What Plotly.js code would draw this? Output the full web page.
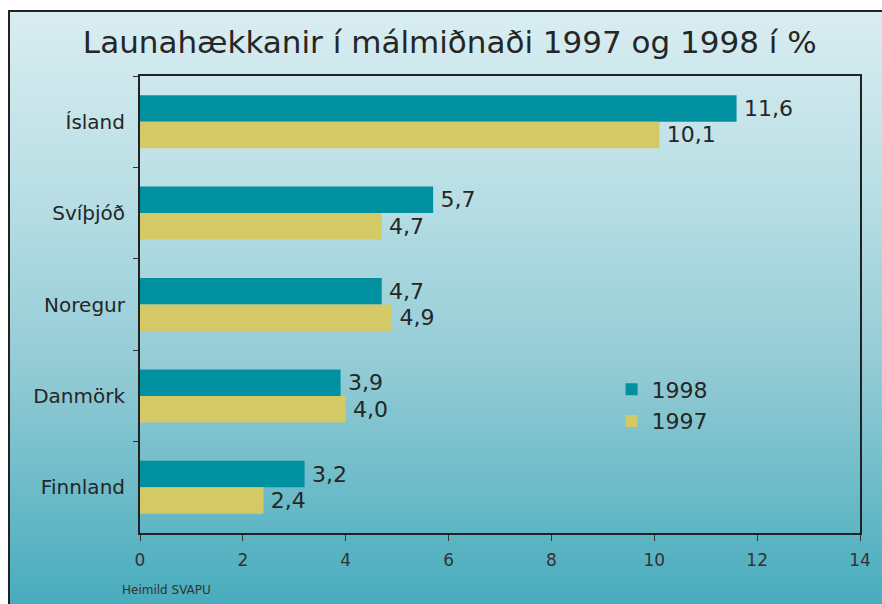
<!DOCTYPE html>
<html>
<head>
<meta charset="utf-8">
<script src="https://cdn.plot.ly/plotly-3.0.1.min.js"></script>
<style>
  html, body { margin:0; padding:0; background:#ffffff; }
  #wrap { position:relative; width:882px; height:604px; overflow:hidden; }
  #bg { position:absolute; left:8px; top:10px; right:0; bottom:0;
        border-left:2px solid #222; border-top:2px solid #222;
        background:linear-gradient(to bottom, #d9edf1 0%, #b9dfe5 30%, #93cbd5 60%, #48acbd 100%); }
  #chart { position:absolute; left:0; top:0; width:882px; height:604px; }
</style>
</head>
<body>
<div id="wrap">
  <div id="bg"></div>
  <div id="chart"></div>
</div>
<script>
const categories = ["Ísland", "Svíþjóð", "Noregur", "Danmörk", "Finnland"];
const values1998 = [11.6, 5.7, 4.7, 3.9, 3.2];
const values1997 = [10.1, 4.7, 4.9, 4.0, 2.4];
const seriesNames = ["1998", "1997"];
const xTicks = [0, 2, 4, 6, 8, 10, 12, 14];

const FONT = "'DejaVu Sans', sans-serif";
const txt = "#262626";

const traces = [
  { type:"bar", orientation:"h", name:seriesNames[0], y:categories, x:values1998,
    marker:{color:"#00909f"}, texttemplate:"\u2009%{x:.1f}", textposition:"outside",
    textfont:{size:22, color:txt, family:FONT}, cliponaxis:false, hoverinfo:"skip" },
  { type:"bar", orientation:"h", name:seriesNames[1], y:categories, x:values1997,
    marker:{color:"#d4c967"}, texttemplate:"\u2009%{x:.1f}", textposition:"outside",
    textfont:{size:22, color:txt, family:FONT}, cliponaxis:false, hoverinfo:"skip" }
];

const layout = {
  width:882, height:604,
  paper_bgcolor:"rgba(0,0,0,0)", plot_bgcolor:"rgba(0,0,0,0)",
  separators:",.",
  font:{family:FONT, color:txt},
  margin:{l:140, r:22, t:76, b:71},
  barmode:"group", bargap:0.42, bargroupgap:0,
  title:{text:"Launahækkanir í málmiðnaði 1997 og 1998 í %", font:{size:31, color:txt, family:FONT},
         x:0.51, xanchor:"center", y:0.93, yanchor:"middle"},
  xaxis:{range:[0,14], tickvals:xTicks, ticktext:xTicks.map(String), ticks:"outside", ticklen:6,
         tickcolor:"#333", tickfont:{size:17, color:"#333"}, showgrid:false, zeroline:false,
         showline:true, linecolor:"#222", linewidth:2, mirror:true, ticklabelstandoff:5, fixedrange:true},
  yaxis:{autorange:"reversed", type:"category", ticks:"outside", ticklen:5, tickson:"boundaries",
         tickcolor:"#333", tickfont:{size:20, color:txt}, showgrid:false, zeroline:false,
         showline:true, linecolor:"#222", linewidth:2, mirror:true, ticklabelstandoff:9, fixedrange:true},
  legend:{x:0.655, y:0.36, xanchor:"left", yanchor:"top", bgcolor:"rgba(0,0,0,0)",
          font:{size:22, color:txt}, traceorder:"normal", itemwidth:30, tracegroupgap:0},
  annotations:[{text:"Heimild SVAPU", xref:"paper", yref:"paper", x:-0.028, y:-0.105,
                xanchor:"left", yanchor:"top", showarrow:false, font:{size:12, color:"#333"}}],
  showlegend:true
};

Plotly.newPlot("chart", traces, layout, {staticPlot:true, displayModeBar:false});
</script>
</body>
</html>
